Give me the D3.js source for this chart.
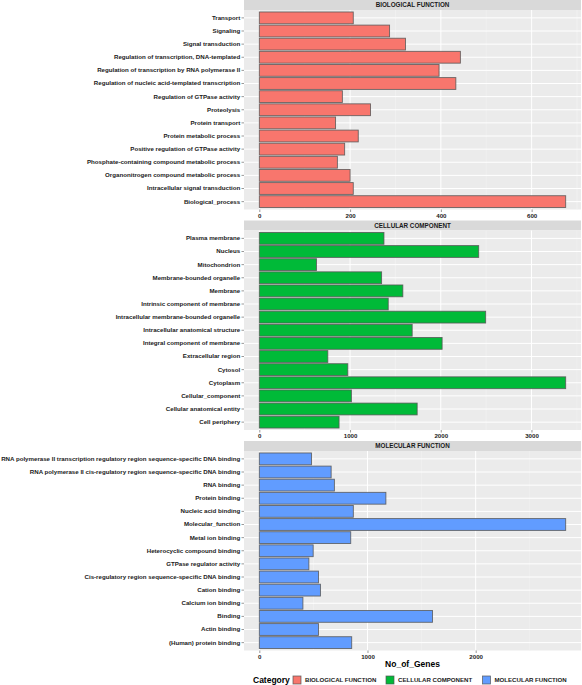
<!DOCTYPE html>
<html><head><meta charset="utf-8">
<script src="https://cdn.jsdelivr.net/npm/d3@7"></script>
<style>body{margin:0;background:#fff}svg{display:block}text{font-family:"Liberation Sans",Arial,sans-serif}</style>
</head><body>
<script>
const bpCategories = ["Transport","Signaling","Signal transduction","Regulation of transcription, DNA-templated","Regulation of transcription by RNA polymerase II","Regulation of nucleic acid-templated transcription","Regulation of GTPase activity","Proteolysis","Protein transport","Protein metabolic process","Positive regulation of GTPase activity","Phosphate-containing compound metabolic process","Organonitrogen compound metabolic process","Intracellular signal transduction","Biological_process"];
const bpValues = [207,287,322,443,396,433,183,245,168,218,188,172,200,207,675];
const bpTicks = [0,200,400,600];

const ccCategories = ["Plasma membrane","Nucleus","Mitochondrion","Membrane-bounded organelle","Membrane","Intrinsic component of membrane","Intracellular membrane-bounded organelle","Intracellular anatomical structure","Integral component of membrane","Extracellular region","Cytosol","Cytoplasm","Cellular_component","Cellular anatomical entity","Cell periphery"];
const ccValues = [1374,2418,630,1348,1582,1421,2495,1685,2015,755,975,3377,1015,1740,879];
const ccTicks = [0,1000,2000,3000];

const mfCategories = ["RNA polymerase II transcription regulatory region sequence-specific DNA binding","RNA polymerase II cis-regulatory region sequence-specific DNA binding","RNA binding","Protein binding","Nucleic acid binding","Molecular_function","Metal ion binding","Heterocyclic compound binding","GTPase regulator activity","Cis-regulatory region sequence-specific DNA binding","Cation binding","Calcium ion binding","Binding","Actin binding","(Human) protein binding"];
const mfValues = [482,664,694,1170,869,2832,845,498,458,547,565,403,1601,547,854];
const mfTicks = [0,1000,2000];

const facetNames = ["BIOLOGICAL FUNCTION","CELLULAR COMPONENT","MOLECULAR FUNCTION"];
const facetColors = ["#F8766D","#00BA38","#619CFF"];
const xTitle = "No_of_Genes";
const legendTitle = "Category";

const panels = [
  {name:facetNames[0], color:facetColors[0], cats:bpCategories, vals:bpValues, ticks:bpTicks},
  {name:facetNames[1], color:facetColors[1], cats:ccCategories, vals:ccValues, ticks:ccTicks},
  {name:facetNames[2], color:facetColors[2], cats:mfCategories, vals:mfValues, ticks:mfTicks}
];

const W=582,H=685;
const left=244,right=581,stripH=10,panelH=199.5,gap=11;
const labelSize=6.15;
const svg=d3.select("body").append("svg").attr("width",W).attr("height",H);

panels.forEach((p,i)=>{
  const top0=i*(stripH+panelH+gap);
  const pTop=top0+stripH, pBot=pTop+panelH;
  const g=svg.append("g");
  g.append("rect").attr("x",left).attr("y",top0).attr("width",right-left).attr("height",stripH).attr("fill","#D9D9D9");
  g.append("text").attr("x",(left+right)/2).attr("y",top0+stripH/2).attr("dy","0.35em").attr("text-anchor","middle")
    .attr("font-size",6.3).attr("font-weight","bold").attr("fill","#1a1a1a").text(p.name);
  g.append("rect").attr("x",left).attr("y",pTop).attr("width",right-left).attr("height",panelH).attr("fill","#EBEBEB");
  const mx=d3.max(p.vals);
  const x=d3.scaleLinear().domain([-0.05*mx,1.05*mx]).range([left,right]);
  const y=d3.scaleBand().domain(p.cats).range([pTop,pBot]).paddingInner(0.1).paddingOuter(0.15);
  const step=p.ticks[1]-p.ticks[0];
  const minors=[];
  for(let v=p.ticks[0]-step/2; v<=x.domain()[1]; v+=step){ if(v>=x.domain()[0]) minors.push(v); }
  g.selectAll(null).data(minors).enter().append("line")
    .attr("x1",d=>x(d)).attr("x2",d=>x(d)).attr("y1",pTop).attr("y2",pBot).attr("stroke","#F5F5F5").attr("stroke-width",0.5);
  g.selectAll(null).data(p.ticks).enter().append("line")
    .attr("x1",d=>x(d)).attr("x2",d=>x(d)).attr("y1",pTop).attr("y2",pBot).attr("stroke","#fff").attr("stroke-width",1);
  g.selectAll(null).data(p.cats).enter().append("line")
    .attr("x1",left).attr("x2",right).attr("y1",d=>y(d)+y.bandwidth()/2).attr("y2",d=>y(d)+y.bandwidth()/2).attr("stroke","#fff").attr("stroke-width",1);
  g.selectAll(null).data(p.cats).enter().append("rect")
    .attr("x",x(0)).attr("y",(d)=>y(d)).attr("height",y.bandwidth())
    .attr("width",(d,j)=>x(p.vals[j])-x(0))
    .attr("fill",p.color).attr("stroke","#555").attr("stroke-opacity",0.85).attr("stroke-width",0.9);
  const ya=d3.axisLeft(y).tickSize(2.5).tickPadding(1.3);
  const yg=g.append("g").attr("transform",`translate(${left},0)`).call(ya);
  yg.select(".domain").remove();
  yg.selectAll(".tick line").attr("stroke","#333").attr("stroke-width",0.5);
  yg.selectAll(".tick text").attr("font-size",labelSize).attr("font-weight","bold").attr("fill","#1a1a1a").attr("font-family","Liberation Sans, Arial, sans-serif");
  const xa=d3.axisBottom(x).tickValues(p.ticks).tickSize(2.5).tickPadding(1.5).tickFormat(d3.format("d"));
  const xg=g.append("g").attr("transform",`translate(0,${pBot})`).call(xa);
  xg.select(".domain").remove();
  xg.selectAll(".tick line").attr("stroke","#333").attr("stroke-width",0.5);
  xg.selectAll(".tick text").attr("font-size",labelSize).attr("font-weight","bold").attr("fill","#1a1a1a").attr("font-family","Liberation Sans, Arial, sans-serif");
});

svg.append("text").attr("x",(left+right)/2).attr("y",667).attr("text-anchor","middle")
  .attr("font-size",8.5).attr("font-weight","bold").attr("fill","#000").text(xTitle);

const ly=680;
svg.append("text").attr("x",253).attr("y",ly).attr("dy","0.35em").attr("font-size",8.5).attr("font-weight","bold").attr("fill","#000").text(legendTitle);
const keyX=[293,386,482.5];
facetNames.forEach((n,i)=>{
  svg.append("rect").attr("x",keyX[i]).attr("y",ly-4).attr("width",8).attr("height",8)
    .attr("fill",facetColors[i]).attr("stroke","#555").attr("stroke-opacity",0.85).attr("stroke-width",0.8);
  svg.append("text").attr("x",keyX[i]+12).attr("y",ly).attr("dy","0.35em").attr("font-size",6.1).attr("font-weight","bold").attr("fill","#1a1a1a").text(n);
});
</script>
</body></html>
